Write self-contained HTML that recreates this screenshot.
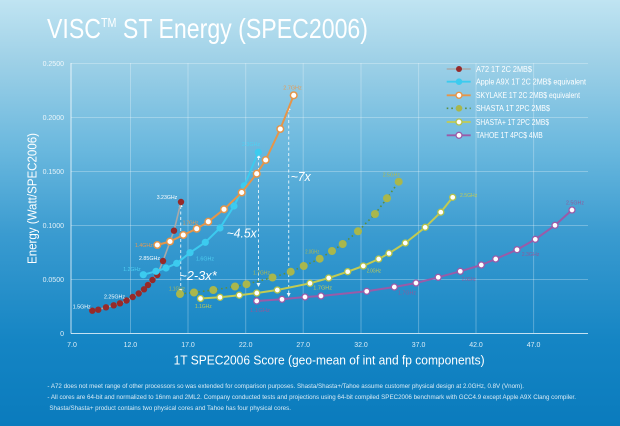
<!DOCTYPE html>
<html><head><meta charset="utf-8"><style>
html,body{margin:0;padding:0;width:620px;height:426px;overflow:hidden;}
svg{display:block;font-family:"Liberation Sans",sans-serif;}
</style></head><body>
<svg width="620" height="426" viewBox="0 0 620 426" xmlns="http://www.w3.org/2000/svg">
<defs>
<linearGradient id="bg" x1="0" y1="0" x2="0" y2="1">
<stop offset="0" stop-color="#c0e4f2"/>
<stop offset="0.14" stop-color="#9fd1e7"/>
<stop offset="0.35" stop-color="#6ab8de"/>
<stop offset="0.55" stop-color="#3a9bd0"/>
<stop offset="0.8" stop-color="#1585c4"/>
<stop offset="1" stop-color="#0a7bbd"/>
</linearGradient>
</defs>
<rect x="0" y="0" width="620" height="426" fill="url(#bg)"/>

<!-- Title -->
<text x="47" y="38" font-size="28" fill="#ffffff" textLength="321" lengthAdjust="spacingAndGlyphs">VISC<tspan font-size="13" dy="-11">TM</tspan><tspan dy="11"> ST Energy (SPEC2006)</tspan></text>

<!-- Grid -->
<g stroke="#ffffff" stroke-opacity="0.28" stroke-width="1">
<line x1="71" y1="63.5" x2="588" y2="63.5"/>
<line x1="71" y1="117.5" x2="588" y2="117.5"/>
<line x1="71" y1="171.5" x2="588" y2="171.5"/>
<line x1="71" y1="225.5" x2="588" y2="225.5"/>
<line x1="71" y1="279.5" x2="588" y2="279.5"/>
<line x1="130.5" y1="63" x2="130.5" y2="333"/>
<line x1="188" y1="63" x2="188" y2="333"/>
<line x1="245.7" y1="63" x2="245.7" y2="333"/>
<line x1="303.2" y1="63" x2="303.2" y2="333"/>
<line x1="361" y1="63" x2="361" y2="333"/>
<line x1="418.6" y1="63" x2="418.6" y2="333"/>
<line x1="476" y1="63" x2="476" y2="333"/>
<line x1="533.6" y1="63" x2="533.6" y2="333"/>
</g>
<g stroke="#ffffff" stroke-opacity="0.75" stroke-width="1">
<line x1="71" y1="63" x2="71" y2="333.5"/>
<line x1="71" y1="333.5" x2="588" y2="333.5"/>
</g>

<!-- Y tick labels -->
<g font-size="7" fill="#ffffff" fill-opacity="0.85" text-anchor="end">
<text x="64" y="66">0.2500</text>
<text x="64" y="120">0.2000</text>
<text x="64" y="174">0.1500</text>
<text x="64" y="228">0.1000</text>
<text x="64" y="282">0.0500</text>
<text x="64" y="336">0</text>
</g>
<!-- X tick labels -->
<g font-size="7" fill="#ffffff" fill-opacity="0.85" text-anchor="middle">
<text x="72" y="347">7.0</text>
<text x="130.4" y="347">12.0</text>
<text x="188" y="347">17.0</text>
<text x="245.7" y="347">22.0</text>
<text x="303.2" y="347">27.0</text>
<text x="361" y="347">32.0</text>
<text x="418.6" y="347">37.0</text>
<text x="476" y="347">42.0</text>
<text x="533.6" y="347">47.0</text>
</g>

<!-- Axis titles -->
<text x="173.6" y="364.5" font-size="13" fill="#ffffff" textLength="311" lengthAdjust="spacingAndGlyphs">1T SPEC2006 Score (geo-mean of int and fp components)</text>
<text transform="translate(36.5,264) rotate(-90)" x="0" y="0" font-size="13" fill="#ffffff" textLength="131" lengthAdjust="spacingAndGlyphs">Energy (Watt/SPEC2006)</text>

<!-- Dashed arrows -->
<g stroke="#ffffff" stroke-opacity="0.8" stroke-width="1" stroke-dasharray="3,2.5" fill="none">
<line x1="180.7" y1="206" x2="180.7" y2="290"/>
<line x1="258.5" y1="157" x2="258.5" y2="284"/>
<line x1="288.7" y1="109" x2="288.7" y2="294"/>
</g>
<g fill="#ffffff" fill-opacity="0.9">
<polygon points="178.7,207 182.7,207 180.7,203"/>
<polygon points="178.7,289 182.7,289 180.7,293"/>
<polygon points="256.5,158 260.5,158 258.5,154"/>
<polygon points="256.5,283 260.5,283 258.5,287"/>
<polygon points="286.7,110 290.7,110 288.7,106"/>
<polygon points="286.7,293 290.7,293 288.7,297"/>
</g>

<!-- A72 -->
<polyline fill="none" stroke="#a9a9a9" stroke-width="1.6" stroke-linejoin="round" points="92.3,310.7 98.3,309.7 106,307.3 113.7,305.3 120,303.3 126.5,300.5 132.7,297 138.7,293.5 144,289.3 148,285 152.5,280 157.3,275 163,261 174,230.7 181,202"/>
<g fill="#962a2a">
<circle cx="92.3" cy="310.7" r="3.2"/><circle cx="98.3" cy="309.7" r="3.2"/><circle cx="106" cy="307.3" r="3.2"/><circle cx="113.7" cy="305.3" r="3.2"/><circle cx="120" cy="303.3" r="3.2"/><circle cx="126.5" cy="300.5" r="3.2"/><circle cx="132.7" cy="297" r="3.2"/><circle cx="138.7" cy="293.5" r="3.2"/><circle cx="144" cy="289.3" r="3.2"/><circle cx="148" cy="285" r="3.2"/><circle cx="152.5" cy="280" r="3.2"/><circle cx="157.3" cy="275" r="3.2"/><circle cx="163" cy="261" r="3.2"/><circle cx="174" cy="230.7" r="3.2"/><circle cx="181" cy="202" r="3.2"/>
</g>

<!-- Apple A9X -->
<polyline fill="none" stroke="#3ccbef" stroke-width="2" stroke-linejoin="round" points="143.3,274.7 156,271.3 166,268 176.7,263.3 190,252.7 205.3,242.3 220,228 234,206 244.3,185.7 258.3,152.3"/>
<g fill="#3ccbef">
<circle cx="143.3" cy="274.7" r="3.6"/><circle cx="156" cy="271.3" r="3.6"/><circle cx="166" cy="268" r="3.6"/><circle cx="176.7" cy="263.3" r="3.6"/><circle cx="190" cy="252.7" r="3.6"/><circle cx="205.3" cy="242.3" r="3.6"/><circle cx="220" cy="228" r="3.6"/><circle cx="234" cy="206" r="3.6"/><circle cx="244.3" cy="185.7" r="3.6"/><circle cx="258.3" cy="152.3" r="3.6"/>
</g>

<!-- Skylake -->
<polyline fill="none" stroke="#e5954a" stroke-width="2" stroke-linejoin="round" points="157.3,245 170,241.5 183.3,235 196.7,228.7 208.3,221.7 224,209.3 241.7,192.5 256.7,173.7 265.7,160 280.3,129 293.7,95.3"/>
<g fill="#ffffff" stroke="#e5954a" stroke-width="1.5">
<circle cx="157.3" cy="245" r="3.3"/><circle cx="170" cy="241.5" r="3.3"/><circle cx="183.3" cy="235" r="3.3"/><circle cx="196.7" cy="228.7" r="3.3"/><circle cx="208.3" cy="221.7" r="3.3"/><circle cx="224" cy="209.3" r="3.3"/><circle cx="241.7" cy="192.5" r="3.3"/><circle cx="256.7" cy="173.7" r="3.3"/><circle cx="265.7" cy="160" r="3.3"/><circle cx="280.3" cy="129" r="3.3"/><circle cx="293.7" cy="95.3" r="3.3"/>
</g>

<!-- Shasta (dotted) -->
<polyline fill="none" stroke="#5e8e3c" stroke-width="1.6" stroke-dasharray="1.6,3" stroke-linejoin="round" points="180,294 194,292.5 213.3,290 235,286.5 246.5,284.2 272.5,277.5 290.7,271.7 303.7,266 319.7,258.7 332,251 342.7,244 358,231.3 375,214 387,198.3 398.7,181.7"/>
<g fill="#a9b74c">
<circle cx="180" cy="294" r="4"/><circle cx="194" cy="292.5" r="4"/><circle cx="213.3" cy="290" r="4"/><circle cx="235" cy="286.5" r="4"/><circle cx="246.5" cy="284.2" r="4"/><circle cx="272.5" cy="277.5" r="4"/><circle cx="290.7" cy="271.7" r="4"/><circle cx="303.7" cy="266" r="4"/><circle cx="319.7" cy="258.7" r="4"/><circle cx="332" cy="251" r="4"/><circle cx="342.7" cy="244" r="4"/><circle cx="358" cy="231.3" r="4"/><circle cx="375" cy="214" r="4"/><circle cx="387" cy="198.3" r="4"/><circle cx="398.7" cy="181.7" r="4"/>
</g>

<!-- Shasta+ -->
<polyline fill="none" stroke="#c2cb52" stroke-width="2" stroke-linejoin="round" points="200.5,298.5 220,297.3 239.3,295.2 256.8,293 277.3,290 310,283.3 328.7,278 347.7,271.7 363.3,266 378.7,259 389,253.3 405.3,243 425.2,227.3 440.8,212.2 452.7,197.3"/>
<g fill="#ffffff" stroke="#b5c24a" stroke-width="1.3">
<circle cx="200.5" cy="298.5" r="3"/><circle cx="220" cy="297.3" r="3"/><circle cx="239.3" cy="295.2" r="3"/><circle cx="256.8" cy="293" r="3"/><circle cx="277.3" cy="290" r="3"/><circle cx="310" cy="283.3" r="3"/><circle cx="328.7" cy="278" r="3"/><circle cx="347.7" cy="271.7" r="3"/><circle cx="363.3" cy="266" r="3"/><circle cx="378.7" cy="259" r="3"/><circle cx="389" cy="253.3" r="3"/><circle cx="405.3" cy="243" r="3"/><circle cx="425.2" cy="227.3" r="3"/><circle cx="440.8" cy="212.2" r="3"/><circle cx="452.7" cy="197.3" r="3"/>
</g>

<!-- Tahoe -->
<polyline fill="none" stroke="#9a5ba8" stroke-width="2" stroke-linejoin="round" points="256.7,301 282,299.3 305,297 321,296 366.7,291.3 394.3,287 416,283 438.2,277.3 460.3,271.3 481.3,265 495.7,259 517,249.7 535.3,239.3 555,225.3 572,210"/>
<g fill="#ffffff" stroke="#9a5ba8" stroke-width="1.3">
<circle cx="256.7" cy="301" r="3"/><circle cx="282" cy="299.3" r="3"/><circle cx="305" cy="297" r="3"/><circle cx="321" cy="296" r="3"/><circle cx="366.7" cy="291.3" r="3"/><circle cx="394.3" cy="287" r="3"/><circle cx="416" cy="283" r="3"/><circle cx="438.2" cy="277.3" r="3"/><circle cx="460.3" cy="271.3" r="3"/><circle cx="481.3" cy="265" r="3"/><circle cx="495.7" cy="259" r="3"/><circle cx="517" cy="249.7" r="3"/><circle cx="535.3" cy="239.3" r="3"/><circle cx="555" cy="225.3" r="3"/><circle cx="572" cy="210" r="3"/>
</g>

<!-- Point labels -->
<g font-size="5.8">
<text x="72.7" y="308.7" fill="#ffffff" textLength="18" lengthAdjust="spacingAndGlyphs">1.5GHz</text>
<text x="104" y="298.7" fill="#ffffff" textLength="21" lengthAdjust="spacingAndGlyphs">2.25GHz</text>
<text x="139" y="260" fill="#ffffff" textLength="21" lengthAdjust="spacingAndGlyphs">2.85GHz</text>
<text x="156.7" y="199" fill="#ffffff" textLength="20.6" lengthAdjust="spacingAndGlyphs">3.23GHz</text>

<text x="123.3" y="271" fill="#4fd0f2" textLength="17.4" lengthAdjust="spacingAndGlyphs">1.2GHz</text>
<text x="196" y="260.3" fill="#4fd0f2" textLength="18" lengthAdjust="spacingAndGlyphs">1.6GHz</text>
<text x="242" y="146" fill="#4fd0f2" textLength="18" lengthAdjust="spacingAndGlyphs">2.3GHz</text>

<text x="135" y="247" fill="#e99a50" textLength="17.7" lengthAdjust="spacingAndGlyphs">1.4GHz</text>
<text x="182.7" y="224.7" fill="#e99a50" textLength="15.6" lengthAdjust="spacingAndGlyphs">1.7GHz</text>
<text x="283.3" y="89.7" fill="#e99a50" textLength="18.4" lengthAdjust="spacingAndGlyphs">2.7GHz</text>

<text x="169" y="290.7" fill="#b3bb4e" textLength="16" lengthAdjust="spacingAndGlyphs">1.1GHz</text>
<text x="253" y="274.7" fill="#b3bb4e" textLength="17" lengthAdjust="spacingAndGlyphs">1.7GHz</text>
<text x="305.3" y="253.7" fill="#b3bb4e" textLength="14" lengthAdjust="spacingAndGlyphs">2.0GHz</text>
<text x="382.7" y="176.3" fill="#b3bb4e" textLength="17.3" lengthAdjust="spacingAndGlyphs">2.5GHz</text>

<text x="195" y="308" fill="#c2cb52" textLength="16.7" lengthAdjust="spacingAndGlyphs">1.1GHz</text>
<text x="313.3" y="289.3" fill="#c2cb52" textLength="18.7" lengthAdjust="spacingAndGlyphs">1.7GHz</text>
<text x="366.7" y="272.7" fill="#c2cb52" textLength="14.3" lengthAdjust="spacingAndGlyphs">2.0GHz</text>
<text x="460" y="197" fill="#c2cb52" textLength="17.3" lengthAdjust="spacingAndGlyphs">2.5GHz</text>

<text x="250" y="312" fill="#8d5a9c" textLength="20" lengthAdjust="spacingAndGlyphs">1.1GHz</text>
<text x="398" y="294.3" fill="#8d5a9c" textLength="18" lengthAdjust="spacingAndGlyphs">1.7GHz</text>
<text x="461.7" y="281" fill="#8d5a9c" textLength="14.3" lengthAdjust="spacingAndGlyphs">2.0GHz</text>
<text x="521.7" y="256" fill="#8d5a9c" textLength="17.6" lengthAdjust="spacingAndGlyphs">2.3GHz</text>
<text x="566" y="204.7" fill="#8d5a9c" textLength="18" lengthAdjust="spacingAndGlyphs">2.5GHz</text>
</g>

<!-- Big annotations -->
<g font-size="13" font-style="italic" fill="#ffffff">
<text x="226.7" y="237.5" textLength="30" lengthAdjust="spacingAndGlyphs">~4.5x</text>
<text x="179.3" y="280" textLength="37.4" lengthAdjust="spacingAndGlyphs">~2-3x*</text>
<text x="290.7" y="181" textLength="20" lengthAdjust="spacingAndGlyphs">~7x</text>
</g>

<!-- Legend -->
<g>
<line x1="446.7" y1="69" x2="470.7" y2="69" stroke="#a9a9a9" stroke-width="1.5"/>
<circle cx="459" cy="69" r="3" fill="#962a2a"/>
<line x1="446.7" y1="81.7" x2="470.7" y2="81.7" stroke="#3ccbef" stroke-width="1.8"/>
<circle cx="459" cy="81.7" r="3.3" fill="#3ccbef"/>
<line x1="446.7" y1="95.3" x2="470.7" y2="95.3" stroke="#e5954a" stroke-width="1.8"/>
<circle cx="459" cy="95.3" r="3" fill="#ffffff" stroke="#e5954a" stroke-width="1.4"/>
<line x1="446.7" y1="108.3" x2="470.7" y2="108.3" stroke="#5e8e3c" stroke-width="1.6" stroke-dasharray="1.6,3"/>
<circle cx="459" cy="108.3" r="3.3" fill="#a9b74c"/>
<line x1="446.7" y1="122" x2="470.7" y2="122" stroke="#c2cb52" stroke-width="1.8"/>
<circle cx="459" cy="122" r="3" fill="#ffffff" stroke="#b5c24a" stroke-width="1.3"/>
<line x1="446.7" y1="135.3" x2="470.7" y2="135.3" stroke="#9a5ba8" stroke-width="1.8"/>
<circle cx="459" cy="135.3" r="3" fill="#ffffff" stroke="#9a5ba8" stroke-width="1.3"/>
</g>
<g font-size="8" fill="#ffffff">
<text x="476" y="71.8" textLength="56" lengthAdjust="spacingAndGlyphs">A72 1T 2C 2MB$</text>
<text x="476" y="84.5" textLength="110" lengthAdjust="spacingAndGlyphs">Apple A9X 1T 2C 2MB$ equivalent</text>
<text x="476" y="98.1" textLength="104" lengthAdjust="spacingAndGlyphs">SKYLAKE 1T 2C 2MB$ equivalent</text>
<text x="476" y="111.1" textLength="74" lengthAdjust="spacingAndGlyphs">SHASTA 1T 2PC 2MB$</text>
<text x="476" y="124.8" textLength="73" lengthAdjust="spacingAndGlyphs">SHASTA+ 1T 2PC 2MB$</text>
<text x="476" y="138.1" textLength="66.7" lengthAdjust="spacingAndGlyphs">TAHOE 1T 4PC$ 4MB</text>
</g>

<!-- Footnotes -->
<g font-size="6" fill="#ffffff" fill-opacity="0.85">
<text x="47.4" y="388" textLength="476.6" lengthAdjust="spacingAndGlyphs">- A72 does not meet range of other processors so was extended for comparison purposes. Shasta/Shasta+/Tahoe assume customer physical design at 2.0GHz, 0.8V (Vnom).</text>
<text x="47.4" y="399" textLength="528.6" lengthAdjust="spacingAndGlyphs">- All cores are 64-bit and normalized to 16nm and 2ML2. Company conducted tests and projections using 64-bit compiled SPEC2006 benchmark with GCC4.9 except Apple A9X Clang compiler.</text>
<text x="49.4" y="410" textLength="241.6" lengthAdjust="spacingAndGlyphs">Shasta/Shasta+ product contains two physical cores and Tahoe has four physical cores.</text>
</g>
</svg>
</body></html>
